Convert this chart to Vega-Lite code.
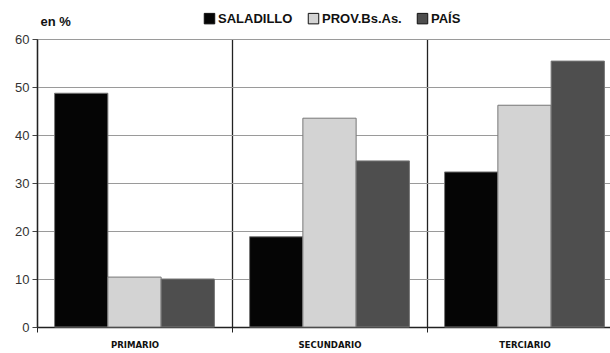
{
  "$schema": "https://vega.github.io/schema/vega-lite/v6.json",
  "width": 573,
  "height": 288,
  "autosize": "none",
  "padding": {"left": 37, "top": 39, "right": 0, "bottom": 26},
  "background": "white",
  "config": {
    "view": {"stroke": null},
    "font": "Liberation Sans"
  },
  "data": {
    "values": [
      {"sector": "PRIMARIO", "serie": "SALADILLO", "pct": 48.7},
      {"sector": "PRIMARIO", "serie": "PROV.Bs.As.", "pct": 10.4},
      {"sector": "PRIMARIO", "serie": "PAÍS", "pct": 10.0},
      {"sector": "SECUNDARIO", "serie": "SALADILLO", "pct": 18.8},
      {"sector": "SECUNDARIO", "serie": "PROV.Bs.As.", "pct": 43.5},
      {"sector": "SECUNDARIO", "serie": "PAÍS", "pct": 34.6},
      {"sector": "TERCIARIO", "serie": "SALADILLO", "pct": 32.3},
      {"sector": "TERCIARIO", "serie": "PROV.Bs.As.", "pct": 46.2},
      {"sector": "TERCIARIO", "serie": "PAÍS", "pct": 55.4}
    ]
  },
  "mark": {"type": "bar", "stroke": "#777", "strokeWidth": 1},
  "encoding": {
    "x": {
      "field": "sector",
      "type": "nominal",
      "sort": ["PRIMARIO", "SECUNDARIO", "TERCIARIO"],
      "scale": {"range": [0, 585], "paddingInner": 0, "paddingOuter": 0},
      "axis": {
        "title": null,
        "labelAngle": 0,
        "tickBand": "extent",
        "grid": true,
        "gridColor": "#222",
        "gridWidth": 1.3,
        "gridOpacity": 1,
        "domainColor": "#222",
        "domainWidth": 1.3,
        "tickColor": "#222",
        "tickSize": 5,
        "labelFont": "DejaVu Sans Condensed",
        "labelFontWeight": "bold",
        "labelFontSize": 9.5,
        "labelColor": "#111",
        "labelPadding": 7
      }
    },
    "xOffset": {
      "field": "serie",
      "type": "nominal",
      "sort": ["SALADILLO", "PROV.Bs.As.", "PAÍS"],
      "scale": {"paddingInner": 0, "paddingOuter": 0.33}
    },
    "y": {
      "field": "pct",
      "type": "quantitative",
      "scale": {"domain": [0, 60], "nice": false},
      "axis": {
        "title": "en %",
        "titleAngle": 0,
        "titleAlign": "left",
        "titleBaseline": "middle",
        "titleX": 3,
        "titleY": -18,
        "titleFontSize": 13,
        "titleFontWeight": "bold",
        "titleColor": "#111",
        "values": [0, 10, 20, 30, 40, 50, 60],
        "grid": true,
        "gridColor": "#9a9a9a",
        "gridOpacity": 1,
        "domainColor": "#222",
        "domainWidth": 1.3,
        "tickColor": "#444",
        "tickSize": 5,
        "labelFontSize": 13,
        "labelColor": "#333",
        "labelPadding": 3
      }
    },
    "color": {
      "field": "serie",
      "type": "nominal",
      "sort": ["SALADILLO", "PROV.Bs.As.", "PAÍS"],
      "scale": {
        "domain": ["SALADILLO", "PROV.Bs.As.", "PAÍS"],
        "range": ["#050505", "#d3d3d3", "#4e4e4e"]
      },
      "legend": {
        "title": null,
        "orient": "none",
        "direction": "horizontal",
        "legendX": 166,
        "legendY": -27,
        "symbolType": "square",
        "symbolSize": 110,
        "symbolStrokeColor": "#111",
        "symbolStrokeWidth": 1,
        "labelFontSize": 13,
        "labelFontWeight": "bold",
        "labelColor": "#111",
        "labelOffset": 2,
        "columnPadding": 13
      }
    }
  }
}
